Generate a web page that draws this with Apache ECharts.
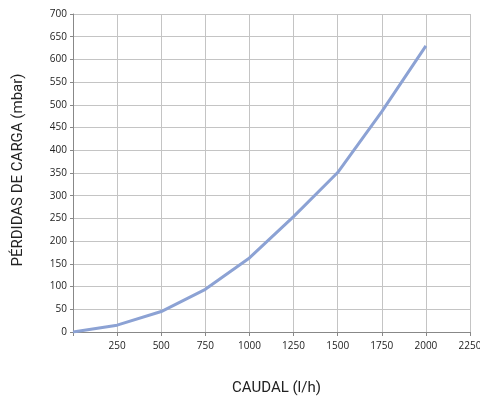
<!DOCTYPE html>
<html>
<head>
<meta charset="utf-8">
<script src="https://cdn.jsdelivr.net/npm/echarts@6/dist/echarts.min.js"></script>
<style>html,body{margin:0;padding:0;background:#fff}#c{width:480px;height:399px}</style>
</head>
<body>
<div id="c"></div>
<script>
const caudal = [0, 250, 500, 750, 1000, 1250, 1500, 1750, 2000];
const perdidas = [0, 15, 45, 94, 163, 254, 351, 485, 630];
const xTitle = 'CAUDAL (l/h)';
const yTitle = 'PÉRDIDAS DE CARGA (mbar)';

const chart = echarts.init(document.getElementById('c'), null, {renderer: 'canvas'});
chart.setOption({
  animation: false,
  backgroundColor: '#ffffff',
  grid: {left: 73, right: 10, top: 14, bottom: 67, containLabel: false, outerBoundsMode: 'none'},
  xAxis: {
    type: 'value', min: 0, max: 2250, interval: 250,
    name: xTitle, nameLocation: 'middle', nameGap: 49,
    nameTextStyle: {fontFamily: 'Roboto', fontSize: 15, color: '#222', padding: [0, 0, 0, 10]},
    axisLine: {show: true, lineStyle: {color: '#888', width: 1}},
    axisTick: {show: true, length: 4, lineStyle: {color: '#888'}},
    axisLabel: {fontFamily: 'Open Sans', fontSize: 10, color: '#222', margin: 9,
      formatter: v => v === 0 ? '' : String(v)},
    splitLine: {show: true, lineStyle: {color: '#c4c4c4', width: 1}}
  },
  yAxis: {
    type: 'value', min: 0, max: 700, interval: 50,
    name: yTitle, nameLocation: 'middle', nameGap: 47, nameRotate: 90,
    nameTextStyle: {fontFamily: 'Roboto', fontSize: 15, color: '#222', padding: [0, 0, 0, 6]},
    axisLine: {show: true, lineStyle: {color: '#888', width: 1}},
    axisTick: {show: true, length: 3, lineStyle: {color: '#888'}},
    axisLabel: {fontFamily: 'Open Sans', fontSize: 10, color: '#222', margin: 6},
    splitLine: {show: true, lineStyle: {color: '#c4c4c4', width: 1}}
  },
  series: [{
    type: 'line',
    data: caudal.map((x, i) => [x, perdidas[i]]),
    showSymbol: false,
    symbol: 'none',
    lineStyle: {color: '#8ca2d4', width: 3},
    smooth: false
  }]
});
</script>
</body>
</html>
